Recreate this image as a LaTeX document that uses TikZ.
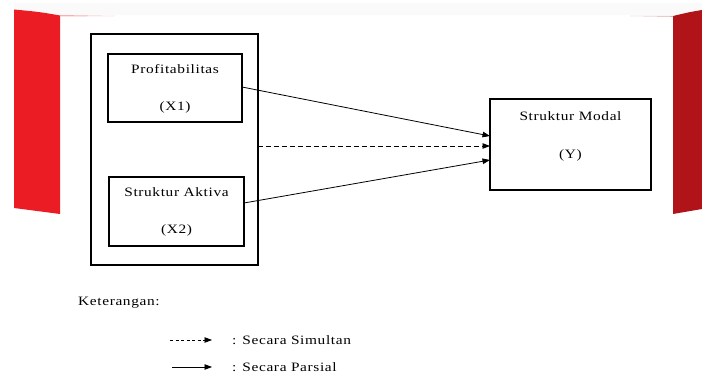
\documentclass[tikz,border=0pt]{standalone}
\usepackage{fontspec}
\setmainfont{Liberation Serif}[FakeStretch=1.2,LetterSpace=5]
\usetikzlibrary{arrows.meta,calc}
\definecolor{redL}{HTML}{EC1C24}
\definecolor{redR}{HTML}{B01318}
\tikzset{
  box/.style={draw=black,line width=2.2pt,inner sep=0pt,outer sep=0pt},
  lbl/.style={inner sep=0pt,text=black,font=\fontsize{12.8}{14}\selectfont},
  conn/.style={line width=0.8pt,-{Triangle[length=7.5pt,width=5.5pt]}},
  simul/.style={conn,dash pattern=on 5pt off 3pt},
}
\begin{document}
\begin{tikzpicture}[x=1pt,y=-1pt]
\useasboundingbox[fill=white] (0,0) rectangle (702,374);
% faint top band
\fill[black!2] (14,3) rectangle (702,15);
% red side bands
\fill[redL] (14,9.5) .. controls (40,12) .. (60,15.5) -- (60,214) -- (14,208) -- cycle;
\fill[redL!35] (60,15) -- (115,16) -- (60,16.5) -- cycle;
\fill[redR] (702,10) .. controls (690,12) .. (673,16) -- (673,214) -- (702,209) -- cycle;
\fill[redR!35] (673,15.8) -- (630,16) -- (673,16.8) -- cycle;
% boxes
\node[box,minimum width=167pt,minimum height=231pt] (outer) at (174.5,149.5) {};
\node[box,minimum width=134pt,minimum height=68pt] (x1) at (175,88) {};
\node[box,minimum width=135pt,minimum height=69pt] (x2) at (176.5,211.5) {};
\node[box,minimum width=161pt,minimum height=91pt] (y) at (570.5,144.5) {};
% texts
\node[lbl] (x1a) at (175,69) {Profitabilitas};
\node[lbl] (x1b) at (175,107) {(X1)};
\node[lbl] (x2a) at (176.5,192) {Struktur Aktiva};
\node[lbl] (x2b) at (176.5,230) {(X2)};
\node[lbl] (ya) at (570.5,116) {Struktur Modal};
\node[lbl] (yb) at (570.5,155) {(Y)};
% connectors
\draw[conn] ($(x1.east)+(0,-1)$) -- ($(y.west)+(0,-8.5)$);
\draw[simul] ($(outer.east)+(0,-3.5)$) -- ($(y.west)+(0,1.5)$);
\draw[conn] ($(x2.east)+(0,-8.5)$) -- ($(y.west)+(0,15.5)$);
% legend
\node[lbl,anchor=west] (ket) at (78,303) {Keterangan:};
\coordinate (ls1) at (170,340);
\coordinate (le1) at (212,340);
\coordinate (ls2) at (172,367);
\coordinate (le2) at (212,367);
\draw[conn,dash pattern=on 3pt off 2.5pt] (ls1) -- (le1);
\draw[conn] (ls2) -- (le2);
\node[lbl,anchor=west] (sim) at (232,340) {: Secara Simultan};
\node[lbl,anchor=west] (par) at (232,367) {: Secara Parsial};
\end{tikzpicture}
\end{document}
